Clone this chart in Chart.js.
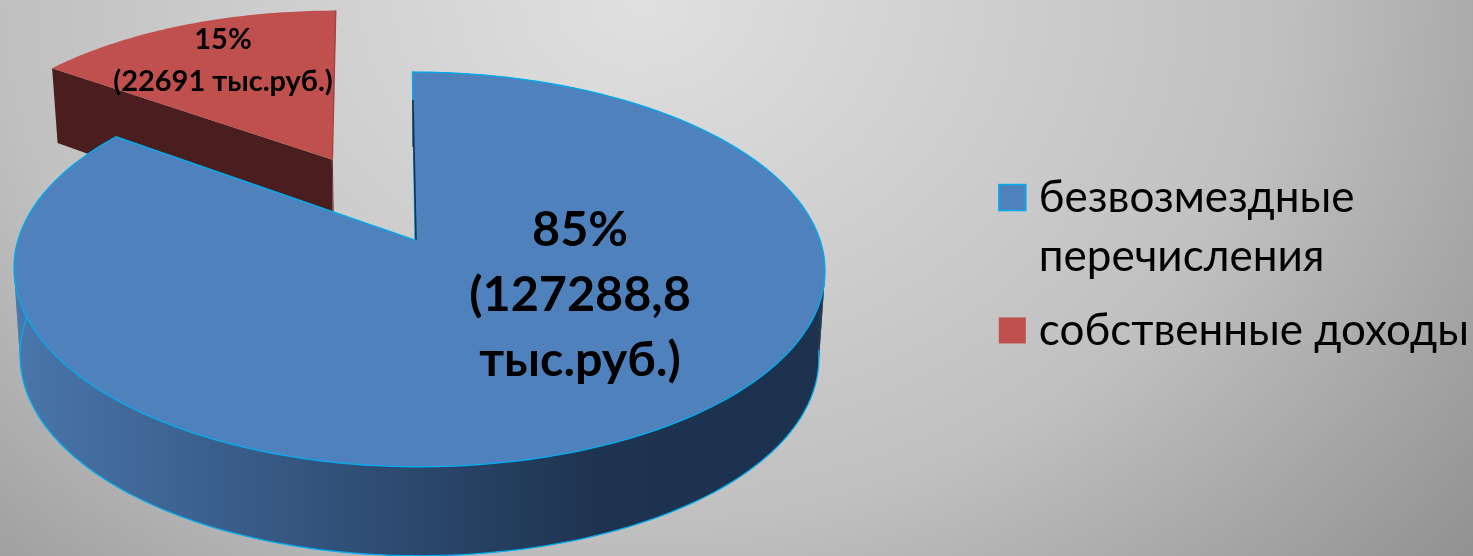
<!DOCTYPE html>
<html>
<head>
<meta charset="utf-8">
<script src="https://cdn.jsdelivr.net/npm/chart.js@4/dist/chart.umd.js"></script>
<style>
html, body { margin: 0; padding: 0; width: 1473px; height: 556px; overflow: hidden; }
body { background: radial-gradient(ellipse 1075px 881px at 640px 0px, #e0e0e0 0%, #c0c0c0 59.5%, #919191 100%); }
canvas { display: block; }
</style>
</head>
<body>
<canvas id="myChart" width="1473" height="556"></canvas>
<script>
var categories = [["безвозмездные", "перечисления"], "собственные доходы"];
var values = [127288.8, 22691];
var valueLabels = [["85%", "(127288,8", "тыс.руб.)"], ["15%", "(22691 тыс.руб.)"]];
var topColors = ["#4f81bd", "#c0504d"];
var edgeColors = ["#00aeef", "#c0504d"];

// the tilted pie: maps a point of the pie's own plane to the screen
var cx = 415, cy = 240, radiusX = 405, radiusY = 193, persp = -0.149;
var explode = 0.5;
var bluePlane = {left: 397, right: radiusX, skew: 3, dx: 0};
var redPlane = {left: 400, right: 400, skew: 8, dx: 6};

function project(u, v, plane){
    var w = 1 + persp * v;
    var ax = u < 0 ? plane.left : plane.right;
    return {x: cx + plane.dx + ax * u / w + plane.skew * v / w, y: cy + radiusY * v / w};
}

// same point on the underside of the pie
function drop(p, v){
    return {x: cx + (p.x - cx) * 0.985, y: p.y + 86 + 7 * v - 4 * v * v};
}

function tracePoints(ctx, pts){
    ctx.beginPath();
    pts.forEach(function(p, i){
        if(i == 0) ctx.moveTo(p.x, p.y);
        else ctx.lineTo(p.x, p.y);
    });
}

function drawBlue(ctx, arc){
    var rim = [], rimLow = [], a, i;
    for(i = 0; i <= 240; i++){
        a = arc.startAngle + (arc.endAngle - arc.startAngle) * i / 240;
        var p = project(Math.cos(a), Math.sin(a), bluePlane);
        rim.push(p);
        rimLow.push(drop(p, Math.sin(a)));
    }
    var apex = project(0, 0, bluePlane);

    var grad = ctx.createLinearGradient(15, 0, 825, 0);
    grad.addColorStop(0, "#4a76ab");
    grad.addColorStop(0.45, "#2e4c73");
    grad.addColorStop(0.72, "#1e334f");
    grad.addColorStop(1, "#1c314d");
    ctx.fillStyle = grad;

    // one quad per rim step, so the silhouette at both sides stays filled
    for(i = 0; i < 240; i++){
        tracePoints(ctx, [rim[i], rim[i + 1], rimLow[i + 1], rimLow[i]]);
        ctx.closePath();
        ctx.fill();
    }
    tracePoints(ctx, rim.concat(rimLow.slice().reverse()));
    ctx.closePath();
    ctx.fill();

    // lower rim line
    tracePoints(ctx, rimLow.filter(function(p, i){ return i > 75 && i < 228; }));
    ctx.strokeStyle = edgeColors[0];
    ctx.lineWidth = 1.3;
    ctx.stroke();

    tracePoints(ctx, [apex].concat(rim));
    ctx.closePath();
    ctx.fillStyle = topColors[0];
    ctx.fill();
    ctx.strokeStyle = edgeColors[0];
    ctx.lineWidth = 1.3;
    ctx.stroke();

    // inner cut face, only a sliver of it shows
    ctx.beginPath();
    ctx.moveTo(apex.x + 1, apex.y);
    ctx.lineTo(rim[0].x + 0.5, rim[0].y + 28);
    ctx.strokeStyle = "#17324c";
    ctx.lineWidth = 1.6;
    ctx.stroke();
}

function drawRed(ctx, arc){
    var mid = (arc.startAngle + arc.endAngle) / 2;
    var ou = Math.cos(mid) * explode, ov = Math.sin(mid) * explode;
    var rim = [], i, a;
    for(i = 0; i <= 60; i++){
        a = arc.startAngle + (arc.endAngle - arc.startAngle) * i / 60;
        rim.push(project(Math.cos(a) + ou, Math.sin(a) + ov, redPlane));
    }
    var apex = project(ou, ov, redPlane);
    var lowApex = drop(apex, ov);
    var lowFirst = drop(rim[0], Math.sin(arc.startAngle) + ov);

    tracePoints(ctx, [apex, rim[0], lowFirst, lowApex]);
    ctx.closePath();
    ctx.fillStyle = "#4a1e1e";
    ctx.fill();

    tracePoints(ctx, [apex].concat(rim));
    ctx.closePath();
    ctx.fillStyle = topColors[1];
    ctx.fill();

    // right cut edge is a slightly darker red
    ctx.beginPath();
    ctx.moveTo(apex.x + 0.5, apex.y);
    ctx.lineTo(rim[60].x - 0.5, rim[60].y);
    ctx.strokeStyle = "#a54543";
    ctx.lineWidth = 1.5;
    ctx.stroke();

    // wall under that edge, at the apex
    ctx.beginPath();
    ctx.moveTo(apex.x + 0.5, apex.y);
    ctx.lineTo(lowApex.x + 0.5, lowApex.y);
    ctx.strokeStyle = "#6b2b2a";
    ctx.lineWidth = 1;
    ctx.stroke();
}

var tiltedPie = {
    id: "tiltedPie",
    beforeDatasetsDraw: function(chart){
        var arcs = chart.getDatasetMeta(0).data;
        var ctx = chart.ctx;
        ctx.save();
        drawRed(ctx, arcs[1]);
        drawBlue(ctx, arcs[0]);
        ctx.restore();
        return false;
    },
    afterDraw: function(chart){
        var ctx = chart.ctx;
        ctx.save();

        // legend swatches sit closer to the text than the library puts them
        chart.legend.legendHitBoxes.forEach(function(hit, i){
            ctx.fillStyle = topColors[i];
            ctx.fillRect(hit.left - 13, hit.top + 9, 27, 26);
            if(i == 0){
                ctx.strokeStyle = edgeColors[0];
                ctx.lineWidth = 1.5;
                ctx.strokeRect(hit.left - 13, hit.top + 9, 27, 26);
            }
        });

        ctx.fillStyle = "#000";
        ctx.textAlign = "center";
        ctx.textBaseline = "middle";
        ctx.font = "bold 48.5px Lato";
        valueLabels[0].forEach(function(line, i){
            ctx.fillText(line, 580, 230 + i * 65);
        });
        ctx.font = "bold 29px Lato";
        valueLabels[1].forEach(function(line, i){
            ctx.fillText(line, 223, 40 + i * 42);
        });
        ctx.restore();
    }
};

var ctx = document.getElementById("myChart").getContext("2d");

var myChart = new Chart(ctx, {
    type: "pie",
    data: {
        labels: categories,
        datasets: [{
            data: values,
            backgroundColor: topColors,
            borderColor: edgeColors,
            borderWidth: 0
        }]
    },
    options: {
        responsive: false,
        animation: false,
        layout: { padding: { right: -6, bottom: 28 } },
        plugins: {
            tooltip: { enabled: false },
            legend: {
                position: "right",
                labels: {
                    boxWidth: 5,
                    boxHeight: 5,
                    padding: 15,
                    color: "#000",
                    font: { family: "Lato", size: 44, lineHeight: 1.34 }
                }
            }
        }
    },
    plugins: [tiltedPie]
});
</script>
</body>
</html>
